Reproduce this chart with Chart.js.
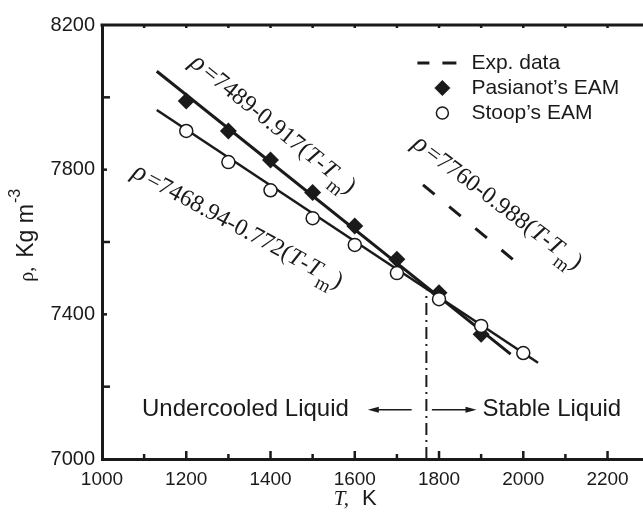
<!DOCTYPE html>
<html>
<head>
<meta charset="utf-8">
<script src="https://cdn.jsdelivr.net/npm/chart.js@4"></script>
<style>
  html, body { margin: 0; padding: 0; overflow: hidden; background: #fff; }
  #wrap { width: 643px; height: 515px; position: relative; }
  canvas { display: block; }
</style>
</head>
<body>
<div id="wrap"><canvas id="chart"></canvas></div>
<script>
// data
const xTicks = [1000, 1200, 1400, 1600, 1800, 2000, 2200];
const yTicks = [7000, 7400, 7800, 8200];

const pasianotT = [1200, 1300, 1400, 1500, 1600, 1700, 1800, 1900];
const pasianotRho = [7990, 7907, 7827, 7737, 7644, 7552, 7460, 7345];

const stoopT = [1200, 1300, 1400, 1500, 1600, 1700, 1800, 1900, 2000];
const stoopRho = [7907, 7821, 7743, 7666, 7592, 7514, 7442, 7368, 7293];

const pasianotFitT = [1130, 1970];
const pasianotFitRho = [8072, 7290];
const stoopFitT = [1130, 2035];
const stoopFitRho = [7965, 7266];
const expT = [1762, 1975];
const expRho = [7758, 7552];
const meltT = [1770, 1770];
const meltRho = [7000, 7465];

const INK = "#1a1a1a";
const SANS = "'Liberation Sans', Arial, sans-serif";
const SERIF = "'Liberation Serif', 'Times New Roman', serif";

const pts = (xs, ys) => xs.map((x, i) => ({x: x, y: ys[i]}));

// draw a run of differently styled pieces along the baseline
function drawRich(ctx, parts){
    let x = 0;
    parts.forEach(p => {
        ctx.font = p.font;
        ctx.fillText(p.t, x, p.dy || 0);
        x += ctx.measureText(p.t).width + (p.gap || 0);
    });
}

function formula(a, b, size){
    const up = size + "px " + SERIF;
    const it = "italic " + size + "px " + SERIF;
    const sub = Math.round(size * 0.8) + "px " + SERIF;
    return [
        {t: "\u03c1", font: "italic " + (size + 3) + "px " + SERIF, gap: 3},
        {t: "=" + a + "-" + b + "(", font: up},
        {t: "T", font: it},
        {t: "-", font: up},
        {t: "T", font: it, gap: 1},
        {t: "m", font: sub, dy: size * 0.4},
        {t: ")", font: up}
    ];
}

function arrow(ctx, x1, x2, y){
    const dir = Math.sign(x2 - x1);
    ctx.lineWidth = 1.5;
    ctx.beginPath();
    ctx.moveTo(x1, y);
    ctx.lineTo(x2 - dir * 8, y);
    ctx.stroke();
    ctx.beginPath();
    ctx.moveTo(x2, y);
    ctx.lineTo(x2 - dir * 11, y - 3);
    ctx.lineTo(x2 - dir * 11, y + 3);
    ctx.closePath();
    ctx.fill();
}

const overlay = {
    id: "overlay",
    afterDraw(chart){
        const ctx = chart.ctx;
        const xs = chart.scales.x, ys = chart.scales.y;
        const a = chart.chartArea;
        ctx.save();
        ctx.strokeStyle = INK;
        ctx.fillStyle = INK;

        // frame runs off the right edge of the figure
        ctx.lineWidth = 3;
        ctx.beginPath();
        ctx.moveTo(a.left - 1.5, a.top);
        ctx.lineTo(chart.width, a.top);
        ctx.moveTo(a.right - 6, a.bottom + 0.5);
        ctx.lineTo(chart.width, a.bottom + 0.5);
        ctx.stroke();

        // inward ticks
        ctx.lineWidth = 2.5;
        for (let v = 1100; v <= 2200; v += 100){
            const px = xs.getPixelForValue(v);
            const len = v % 200 === 0 ? 8 : 5;
            ctx.beginPath();
            ctx.moveTo(px, a.bottom);
            ctx.lineTo(px, a.bottom - len);
            ctx.moveTo(px, a.top);
            ctx.lineTo(px, a.top + 3);
            ctx.stroke();
        }
        for (let v = 7200; v < 8200; v += 200){
            const py = ys.getPixelForValue(v);
            const len = v % 400 === 200 ? 5 : 8;
            ctx.beginPath();
            ctx.moveTo(a.left, py);
            ctx.lineTo(a.left + len, py);
            ctx.stroke();
        }

        // fitted formulas
        ctx.textBaseline = "alphabetic";
        ctx.textAlign = "left";
        const labels = [
            {T: 1206, r: 8090, ang: 39, parts: formula("7489", "0.917", 24)},
            {T: 1068, r: 7782, ang: 28.5, parts: formula("7468.94", "0.772", 24)},
            {T: 1734, r: 7865, ang: 37, parts: formula("7760", "0.988", 24)}
        ];
        labels.forEach(l => {
            ctx.save();
            ctx.translate(xs.getPixelForValue(l.T), ys.getPixelForValue(l.r));
            ctx.rotate(l.ang * Math.PI / 180);
            drawRich(ctx, l.parts);
            ctx.restore();
        });

        // melting point region labels
        const yArr = ys.getPixelForValue(7136);
        ctx.font = "24px " + SANS;
        ctx.textBaseline = "middle";
        ctx.fillText("Undercooled Liquid", xs.getPixelForValue(1095), yArr);
        ctx.fillText("Stable Liquid", xs.getPixelForValue(1903), yArr);
        arrow(ctx, xs.getPixelForValue(1735), xs.getPixelForValue(1631), yArr);
        arrow(ctx, xs.getPixelForValue(1783), xs.getPixelForValue(1889), yArr);

        // legend
        const lx = xs.getPixelForValue(1808);
        ctx.font = "21px " + SANS;
        ctx.lineWidth = 3;
        ctx.beginPath();
        ctx.moveTo(lx - 25, a.top + 38); ctx.lineTo(lx - 13, a.top + 38);
        ctx.moveTo(lx, a.top + 38); ctx.lineTo(lx + 14, a.top + 38);
        ctx.stroke();
        ctx.beginPath();
        ctx.moveTo(lx, a.top + 55); ctx.lineTo(lx + 8, a.top + 63);
        ctx.lineTo(lx, a.top + 71); ctx.lineTo(lx - 8, a.top + 63);
        ctx.closePath();
        ctx.fill();
        ctx.lineWidth = 1.5;
        ctx.fillStyle = "#fff";
        ctx.beginPath();
        ctx.arc(lx, a.top + 88, 6, 0, Math.PI * 2);
        ctx.fill();
        ctx.stroke();
        ctx.fillStyle = INK;
        ctx.fillText("Exp. data", lx + 29, a.top + 38);
        ctx.fillText("Pasianot\u2019s EAM", lx + 29, a.top + 63);
        ctx.fillText("Stoop\u2019s EAM", lx + 29, a.top + 88);

        // axis titles
        ctx.textBaseline = "alphabetic";
        ctx.save();
        ctx.translate(a.left - 69, ys.getPixelForValue(7490));
        ctx.rotate(-Math.PI / 2);
        drawRich(ctx, [
            {t: "\u03c1,", font: "20px " + SERIF, gap: 9},
            {t: "Kg m", font: "23px " + SANS, gap: 1},
            {t: "-3", font: "16px " + SANS, dy: -13}
        ]);
        ctx.restore();

        ctx.save();
        ctx.translate(xs.getPixelForValue(1550), 505);
        drawRich(ctx, [
            {t: "T,", font: "italic 21px " + SERIF, gap: 13},
            {t: "K", font: "22px " + SANS}
        ]);
        ctx.restore();

        ctx.restore();
    }
};

new Chart(document.getElementById("chart"), {
    type: "scatter",
    data: {
        datasets: [
            {
                label: "Stoop's EAM",
                data: pts(stoopT, stoopRho),
                pointStyle: "circle",
                pointRadius: 6.5,
                pointBorderWidth: 1.5,
                pointBackgroundColor: "#fff",
                pointBorderColor: INK,
                order: 1
            },
            {
                label: "Pasianot's EAM",
                data: pts(pasianotT, pasianotRho),
                pointStyle: "rectRot",
                pointRadius: 8.5,
                pointBorderWidth: 0,
                pointBackgroundColor: INK,
                order: 2
            },
            {
                label: "Pasianot fit",
                data: pts(pasianotFitT, pasianotFitRho),
                showLine: true,
                pointRadius: 0,
                borderColor: INK,
                borderWidth: 3,
                order: 3
            },
            {
                label: "Stoop fit",
                data: pts(stoopFitT, stoopFitRho),
                showLine: true,
                pointRadius: 0,
                borderColor: INK,
                borderWidth: 2.5,
                order: 4
            },
            {
                label: "Exp. data",
                data: pts(expT, expRho),
                showLine: true,
                pointRadius: 0,
                borderColor: INK,
                borderWidth: 3,
                borderDash: [15, 19],
                order: 5
            },
            {
                label: "Tm",
                data: pts(meltT, meltRho),
                showLine: true,
                pointRadius: 0,
                borderColor: INK,
                borderWidth: 2,
                borderDash: [12, 5, 2, 5],
                order: 6
            }
        ]
    },
    options: {
        responsive: true,
        maintainAspectRatio: false,
        animation: false,
        layout: {padding: {top: 25, left: 0, right: 0, bottom: 0}},
        plugins: {
            legend: {display: false},
            tooltip: {enabled: false}
        },
        scales: {
            x: {
                type: "linear",
                min: 1000,
                max: 2264,
                afterBuildTicks: s => { s.ticks = xTicks.map(v => ({value: v})); },
                afterFit: s => { s.height = 56; },
                grid: {display: false, drawTicks: false},
                border: {display: true, color: INK, width: 3},
                ticks: {
                    color: INK,
                    padding: 9,
                    font: {family: SANS, size: 19},
                    callback: v => String(v)
                }
            },
            y: {
                type: "linear",
                min: 7000,
                max: 8200,
                afterBuildTicks: s => { s.ticks = yTicks.map(v => ({value: v})); },
                afterFit: s => { s.width = 102; },
                grid: {display: false, drawTicks: false},
                border: {display: true, color: INK, width: 3},
                ticks: {
                    color: INK,
                    padding: 7,
                    font: {family: SANS, size: 20},
                    callback: v => String(v)
                }
            }
        }
    },
    plugins: [overlay]
});
</script>
</body>
</html>
